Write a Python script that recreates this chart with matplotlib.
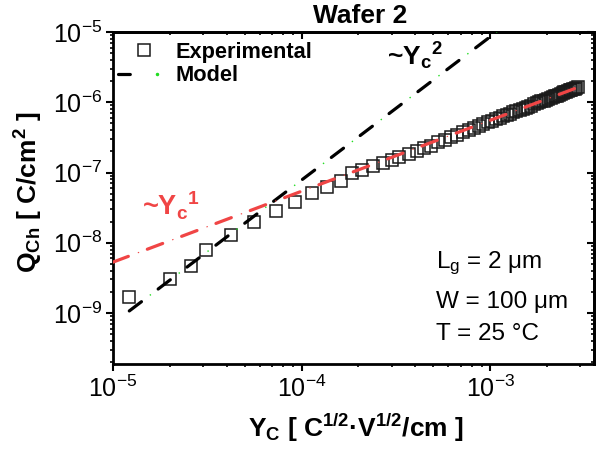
import numpy as np
import matplotlib
matplotlib.use("Agg")
import matplotlib.pyplot as plt
from matplotlib.ticker import LogLocator, NullFormatter
from matplotlib.lines import Line2D
from matplotlib.legend_handler import HandlerTuple

plt.rcParams['font.family'] = ['Liberation Sans', 'DejaVu Sans']
plt.rcParams['mathtext.fontset'] = 'custom'
plt.rcParams['mathtext.rm'] = 'Liberation Sans'
plt.rcParams['mathtext.it'] = 'Liberation Sans:italic'
plt.rcParams['mathtext.bf'] = 'Liberation Sans:bold'
plt.rcParams['lines.scale_dashes'] = False

# experimental points, Yc in 1e-4 C^1/2 V^1/2 / cm, Qch in 1e-7 C/cm^2
yc_exp = np.array([
    0.1215, 0.200, 0.259, 0.310, 0.421, 0.557, 0.728, 0.918, 1.13, 1.36,
    1.61, 1.86, 2.10, 2.38, 2.69, 3.00, 3.30, 3.73, 4.11, 4.48,
    4.87, 5.30, 5.75, 6.20, 6.70, 7.20, 7.70, 8.20, 8.70, 9.20,
    9.70, 10.2, 10.7, 11.2, 11.7, 12.2, 12.7, 13.2, 13.75, 14.3,
    14.85, 15.4, 15.95, 16.5, 17.05, 17.6, 18.15, 18.7, 19.25, 19.8,
    20.35, 20.9, 21.45, 22.0, 22.55, 23.1, 23.65, 24.2, 24.75, 25.3,
    25.85, 26.4, 26.95, 27.5, 28.05, 28.6, 29.2]) * 1e-4
q_exp = np.array([
    0.0169, 0.0305, 0.0467, 0.0787, 0.129, 0.197, 0.283, 0.379, 0.509, 0.620,
    0.755, 0.98, 1.08, 1.23, 1.36, 1.52, 1.66, 1.83, 2.01, 2.22,
    2.42, 2.68, 2.94, 3.18, 3.47, 3.73, 4.04, 4.30, 4.61, 4.88,
    5.20, 5.47, 5.74, 6.01, 6.35, 6.62, 6.90, 7.17, 7.48, 7.78,
    8.08, 8.38, 8.68, 8.99, 9.29, 9.64, 9.94, 10.25, 10.55, 10.86,
    11.22, 11.52, 11.83, 12.14, 12.44, 12.75, 13.19, 13.5, 13.81, 14.12,
    14.43, 14.74, 15.05, 15.36, 15.67, 15.98, 16.5]) * 1e-7

# asymptotes of the model (end points)
lin_x = [1.0e-5, 2.9e-3]      # ~Yc^1
lin_y = [5.3e-9, 1.62e-6]
sq_x = [1.22e-5, 1.1e-3]      # ~Yc^2
sq_y = [1.07e-9, 1.04e-5]

red = '#f04545'
green = '#22dd22'

fig = plt.figure(figsize=(6.07, 4.5), dpi=100)
ax = fig.add_axes([113 / 607, 1 - 364 / 450, 481 / 607, 332 / 450])

ax.plot(yc_exp, q_exp, ls='none', marker='s', ms=8, mfc='none',
        mec='#1a1a1a', mew=1.1, zorder=2)
ax.plot(sq_x, sq_y, color='black', lw=2.3, ls=(0, (11, 15.1)),
        dash_capstyle='round', zorder=3)
ax.plot(sq_x, sq_y, color=green, lw=1, ls=(7.55, (1, 25.1)), zorder=4)
ax.plot(lin_x, lin_y, color=red, lw=2.3, ls=(0, (11.8, 14.6)),
        dash_capstyle='round', zorder=3)
ax.plot(lin_x, lin_y, color=red, lw=0.8, ls=(7.3, (1, 25.4)), zorder=4)

ax.set_xscale('log')
ax.set_yscale('log')
ax.set_xlim(1e-5, 3.55e-3)
ax.set_ylim(1.88e-10, 1e-5)

for axis in (ax.xaxis, ax.yaxis):
    axis.set_major_locator(LogLocator(base=10, numticks=10))
    axis.set_minor_locator(LogLocator(base=10, subs=np.arange(2, 10), numticks=30))
    axis.set_minor_formatter(NullFormatter())

ax.tick_params(which='both', direction='out', labelsize=18, width=1.5, pad=3)
ax.tick_params(which='major', length=5)
ax.tick_params(which='minor', length=2.5, width=1.2)
for s in ax.spines.values():
    s.set_linewidth(2)

# top / right ticks point inwards
secx = ax.secondary_xaxis('top')
secx.xaxis.set_minor_locator(LogLocator(base=10, subs=np.arange(2, 10), numticks=30))
secx.xaxis.set_major_formatter(NullFormatter())
secx.xaxis.set_minor_formatter(NullFormatter())
secx.tick_params(which='both', direction='in', width=1.5)
secx.tick_params(which='major', length=5)
secx.tick_params(which='minor', length=2.5, width=1.2)
secx.spines['top'].set_linewidth(2)

secy = ax.secondary_yaxis('right')
secy.yaxis.set_minor_locator(LogLocator(base=10, subs=np.arange(2, 10), numticks=30))
secy.yaxis.set_major_formatter(NullFormatter())
secy.yaxis.set_minor_formatter(NullFormatter())
secy.tick_params(which='both', direction='in', width=1.5)
secy.tick_params(which='major', length=5)
secy.tick_params(which='minor', length=2.5, width=1.2)
secy.spines['right'].set_linewidth(2)

ax.set_xlabel(r'Y$_\mathregular{C}$ [ C$^\mathregular{1/2}$·V$^\mathregular{1/2}$/cm ]',
              fontsize=19, fontweight='bold')
ax.set_ylabel(r'Q$_\mathregular{Ch}$ [ C/cm$^\mathregular{2}$ ]',
              fontsize=19, fontweight='bold')
ax.xaxis.set_label_coords(0.505, -0.145)
ax.yaxis.set_label_coords(-0.141, 0.518)

fig.text(360 / 607, 1 - 23 / 450, 'Wafer 2', ha='center', va='baseline',
         fontsize=19, fontweight='bold')
fig.text(387 / 607, 1 - 65 / 450, r'~Y$_\mathregular{c}$$^\mathregular{2}$',
         fontsize=19, fontweight='bold', va='baseline')
fig.text(142 / 607, 1 - 215 / 450, r'~Y$_\mathregular{c}$$^\mathregular{1}$',
         fontsize=19.5, fontweight='bold', va='baseline', color=red)

fig.text(436 / 607, 1 - 268 / 450, r'L$_\mathregular{g}$ = 2 μm', fontsize=17.5, va='baseline')
fig.text(436 / 607, 1 - 308 / 450, 'W = 100 μm', fontsize=17.5, va='baseline')
fig.text(436 / 607, 1 - 340 / 450, 'T = 25 °C', fontsize=17.5, va='baseline')

h_exp = Line2D([], [], ls='none', marker='s', ms=8, mfc='none', mec='#1a1a1a', mew=1.1)
h_black = Line2D([], [], color='black', lw=2.3, ls=(0, (8.5, 18.1)), dash_capstyle='round')
h_green = Line2D([], [], ls='none', marker='o', ms=1.5, color=green)
ax.legend([h_exp, (h_black, h_green)], ['Experimental', 'Model'],
          handler_map={tuple: HandlerTuple(ndivide=None)},
          loc='upper left', bbox_to_anchor=(118 / 607, 1 - 42 / 450),
          bbox_transform=fig.transFigure, frameon=False, borderpad=0,
          borderaxespad=0, handlelength=2.4, handletextpad=0.25,
          labelspacing=0.1, prop={'weight': 'bold', 'size': 15.7})

fig.savefig('out.png', dpi=100)
